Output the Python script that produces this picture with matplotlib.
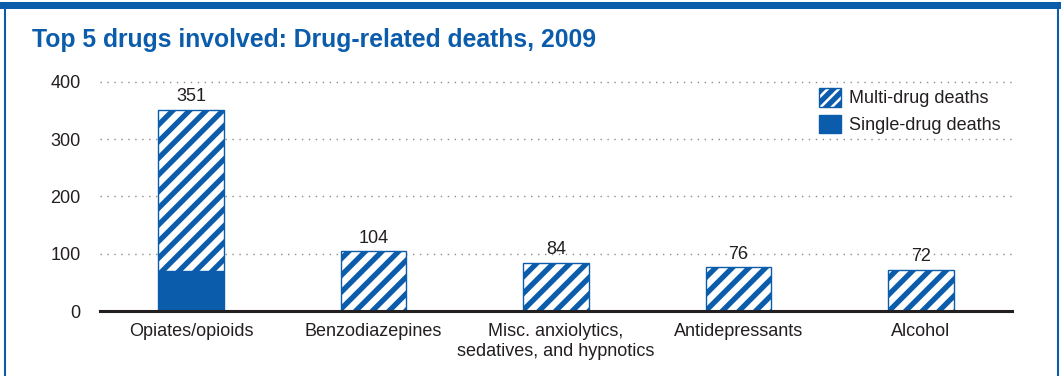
import matplotlib.pyplot as plt
from matplotlib.patches import Patch, Rectangle
from matplotlib.lines import Line2D

### data
drugs = ['Opiates/opioids', 'Benzodiazepines', 'Misc. anxiolytics,\nsedatives, and hypnotics',
         'Antidepressants', 'Alcohol']
single_drug = [70, 0, 0, 0, 0]
multi_drug = [281, 104, 84, 76, 72]
totals = [351, 104, 84, 76, 72]
yticks = [0, 100, 200, 300, 400]

### style
BLUE = '#0b5cab'
TEXT = '#231f20'
FONT = ['Liberation Sans Narrow', 'Liberation Sans', 'DejaVu Sans']
plt.rcParams['font.family'] = FONT
plt.rcParams['hatch.linewidth'] = 3.8
plt.rcParams['hatch.color'] = BLUE

W, H = 1061, 376
fig = plt.figure(figsize=(W / 100, H / 100), dpi=100)

# frame: thick top band, thin side lines
fig.patches.append(Rectangle((0, 1 - 9 / H), 1, 7 / H, transform=fig.transFigure,
                             facecolor=BLUE, edgecolor='none'))
fig.lines.append(Line2D([4.5 / W, 4.5 / W], [0, 1 - 3 / H], transform=fig.transFigure,
                        color=BLUE, lw=1.5))
fig.lines.append(Line2D([1057.5 / W, 1057.5 / W], [0, 1 - 3 / H], transform=fig.transFigure,
                        color=BLUE, lw=1.5))

fig.text(32 / W, 1 - 40 / H, 'Top 5 drugs involved: Drug-related deaths, 2009',
         color=BLUE, fontsize=17.8, fontweight='bold', va='center', ha='left')

ax = fig.add_axes([100 / W, 65 / H, 912 / W, (311 - 78.9) / H])
x = list(range(len(drugs)))
width = 0.36

ax.bar(x, single_drug, width, color=BLUE, edgecolor=BLUE, lw=1, zorder=3)
ax.bar(x, multi_drug, width, bottom=single_drug, color='white', edgecolor=BLUE,
       hatch='//', lw=1, zorder=3)

for xi, t in zip(x, totals):
    ax.text(xi, t + 8, str(t), ha='center', va='bottom', fontsize=13, color=TEXT)

ax.set_xlim(-0.5, len(drugs) - 0.5)
ax.set_ylim(0, 405)
ax.set_yticks(yticks)
ax.set_xticks(x)
ax.set_xticklabels(drugs, fontsize=13, color=TEXT)
ax.tick_params(axis='y', length=0, pad=14, labelsize=13, labelcolor=TEXT)
ax.tick_params(axis='x', length=0, pad=9)
ax.yaxis.grid(True, color='#8c8c8c', lw=1, linestyle=(0, (1, 4)))
ax.set_axisbelow(True)
for side in ['top', 'right', 'left']:
    ax.spines[side].set_visible(False)
ax.spines['bottom'].set_color(TEXT)
ax.spines['bottom'].set_linewidth(2.2)
ax.spines['bottom'].set_zorder(4)

handles = [Patch(facecolor='white', edgecolor=BLUE, hatch='///', lw=1),
           Patch(facecolor=BLUE, edgecolor=BLUE, lw=1)]
ax.legend(handles, ['Multi-drug deaths', 'Single-drug deaths'], loc='upper left',
          bbox_to_anchor=(819 / W, 1 - 88 / H), bbox_transform=fig.transFigure,
          frameon=False, borderpad=0, borderaxespad=0, fontsize=13,
          handlelength=1.22, handleheight=1.22, labelspacing=0.4, handletextpad=0.45,
          labelcolor=TEXT)

fig.savefig('out.png', dpi=100)
